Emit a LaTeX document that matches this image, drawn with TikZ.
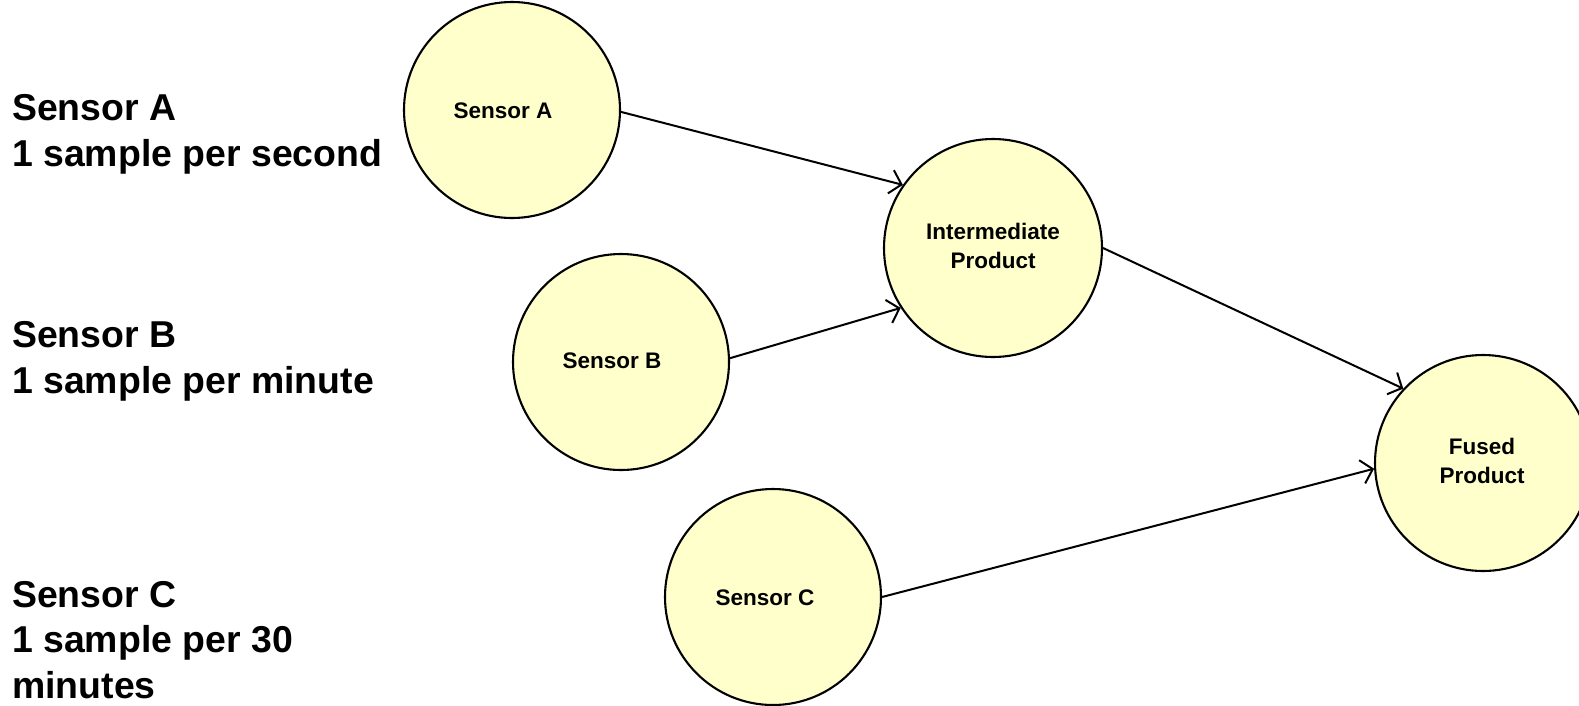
\documentclass[tikz,border=0pt]{standalone}
\usepackage{fontspec}
\setmainfont{Liberation Sans}
\usetikzlibrary{arrows.meta}
\definecolor{circfill}{HTML}{FFFFCC}
\begin{document}
\begin{tikzpicture}[x=1pt,y=-1pt,
  bubble/.style={circle,draw=black,line width=2.1pt,fill=circfill,minimum size=216pt,inner sep=0pt},
  intext/.style={font=\fontsize{22.5}{28.5}\selectfont\bfseries,align=center,inner sep=0pt},
  sidetext/.style={font=\fontsize{37.4}{45.5}\selectfont\bfseries,align=left,inner sep=0pt,anchor=base west},
  flow/.style={line width=2pt,-{Straight Barb[length=11pt,width=24pt,line width=2pt]}}]
\useasboundingbox (0,0) rectangle (1579,705);
\clip (0,0) rectangle (1579,705);
\fill[white] (0,0) rectangle (1579,705);

\node[sidetext] (la) at (12,166) {Sensor A\\1 sample per second};
\node[sidetext] (lb) at (12,393) {Sensor B\\1 sample per minute};
\node[sidetext] (lc) at (12,698) {Sensor C\\1 sample per 30\\minutes};

\node[bubble] (A) at (512,110) {};
\node[bubble] (B) at (621,362) {};
\node[bubble,minimum size=218pt] (I) at (993,248) {};
\node[bubble] (C) at (773,597) {};
\node[bubble] (F) at (1483,463) {};

\node[intext] (ta) at (503,111) {Sensor A};
\node[intext] (tb) at (612,361) {Sensor B};
\node[intext] (tc) at (765,598) {Sensor C};
\node[intext] (ti) at (993,246) {Intermediate\\Product};
\node[intext] (tf) at (1482,461) {Fused\\Product};

\draw[flow] (A.-1) -- (I.145);
\draw[flow] (B.2) -- (I.213);
\draw[flow] (I.0) -- (F.137);
\draw[flow] (C.0) -- (F.183);
\end{tikzpicture}
\end{document}
